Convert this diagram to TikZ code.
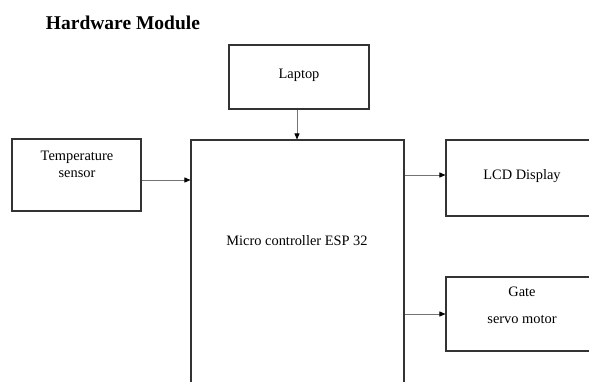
\documentclass[tikz,border=0pt]{standalone}
\usepackage{fontspec}
\setmainfont{Liberation Serif}
\usetikzlibrary{arrows.meta,fit}
\begin{document}
\begin{tikzpicture}[x=1pt,y=-1pt,
  box/.style={draw=black!80, line width=1.1pt, inner sep=0pt, fill=none},
  lbl/.style={anchor=base, inner sep=0pt, font=\fontsize{14.4}{17}\selectfont},
  arr/.style={draw=black!55, line width=0.8pt, -{Triangle[length=6pt,width=5pt,fill=black,color=black]}}]
\useasboundingbox (0,0) rectangle (589,381);
\fill[white] (0,0) rectangle (589,381);
\clip (0,0) rectangle (589,381);
\node[anchor=base, inner sep=0pt, font=\fontsize{19.5}{22}\selectfont\bfseries] (title) at (123,29) {Hardware Module};
% boxes
\node[box, fit={(229,45) (369,109)}] (laptop) {};
\node[box, fit={(12,139) (141,211)}] (temp) {};
\node[box, fit={(191,140) (404,430)}] (mc) {};
\node[box, fit={(446,140) (640,216)}] (lcd) {};
\node[box, fit={(446,277) (640,351)}] (gate) {};
% labels
\node[lbl] (tlaptop) at (299,78.3) {Laptop};
\node[lbl] (ttemp1) at (77,160.7) {Temperature};
\node[lbl] (ttemp2) at (77,177.5) {sensor};
\node[lbl] (tmc) at (297,245) {Micro controller ESP 32};
\node[lbl] (tlcd) at (522,179) {LCD Display};
\node[lbl] (tgate1) at (522,296) {Gate};
\node[lbl] (tgate2) at (522,323) {servo motor};
% connectors
\coordinate (lapout) at ([xshift=-2pt]laptop.south);
\draw[arr] (lapout) -- (lapout |- mc.north);
\coordinate (tempout) at (temp.east |- 0,180);
\draw[arr] (tempout) -- (tempout -| mc.west);
\coordinate (lcdout) at (mc.east |- 0,175);
\draw[arr] (lcdout) -- (lcdout -| lcd.west);
\coordinate (gateout) at (mc.east |- gate.west);
\draw[arr] (gateout) -- (gate.west);
\end{tikzpicture}
\end{document}
